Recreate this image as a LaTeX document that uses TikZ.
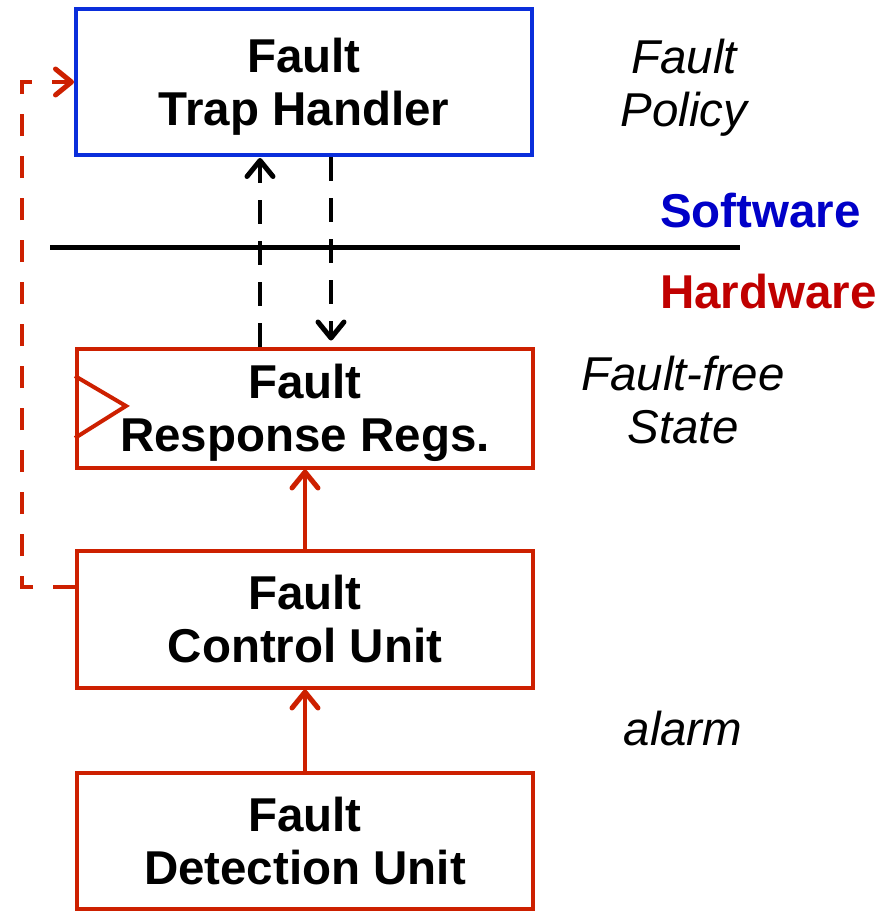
\documentclass[tikz,border=0pt]{standalone}
\usepackage{fontspec}
\setmainfont{Liberation Sans}
\usetikzlibrary{arrows.meta}
\definecolor{boxblue}{RGB}{10,46,219}
\definecolor{boxred}{RGB}{205,32,0}
\definecolor{swblue}{RGB}{0,0,200}
\definecolor{hwred}{RGB}{192,0,0}
\begin{document}
\begin{tikzpicture}[x=1pt,y=-1pt,
  box/.style={draw, line width=4pt, minimum width=456pt, minimum height=#1,
    align=center, inner sep=0pt, text depth=0pt,
    font=\fontsize{47.5}{53}\selectfont\bfseries},
  side/.style={inner sep=0pt, align=center, font=\fontsize{47.5}{53}\selectfont\itshape},
  layer/.style={inner sep=0pt, anchor=base west, font=\fontsize{47.5}{53}\selectfont\bfseries},
  chev/.tip={Straight Barb[length=16pt,width=26pt,line width=5pt,round]},
  blkdash/.style={line width=4pt, dash pattern=on 24pt off 17pt, -chev},
  reddash/.style={draw=boxred, line width=4pt, dash pattern=on 22pt off 20pt, -chev},
  redarrow/.style={draw=boxred, line width=4pt, -chev}
]
\useasboundingbox (0,0) rectangle (881,913);

\node[box=146pt, draw=boxblue] (trap) at (304,82) {Fault\\Trap Handler};
\node[box=119pt, draw=boxred] (resp) at (305,408) {Fault\\Response Regs.};
\node[box=137pt, draw=boxred] (ctrl) at (305,619) {Fault\\Control Unit};
\node[box=136pt, draw=boxred] (det) at (305,841) {Fault\\Detection Unit};

% flip-flop clock triangle
\draw[boxred, line width=4pt, line join=miter] (resp.west |- 0,376) -- (126,406) -- (resp.west |- 0,438);

% software / hardware divider
\coordinate (ls) at (50,247);
\coordinate (le) at (740,247);
\draw[line width=5pt] (ls) -- (le);

% dashed software arrows
\coordinate (upx) at (260,0);
\coordinate (dnx) at (331,0);
\draw[blkdash, shorten >=1pt] (resp.north -| upx) -- (trap.south -| upx);
\draw[blkdash, shorten >=6pt] (trap.south -| dnx) -- (resp.north -| dnx);

% red dashed feedback
\coordinate (fby) at (0,587);
\coordinate (lx) at (22,0);
\draw[reddash] (ctrl.west |- fby) -- (lx |- fby) -- (lx |- trap.west) -- (trap.west);

% red solid arrows
\draw[redarrow] (ctrl.north) -- (resp.south);
\draw[redarrow] (det.north) -- (ctrl.south);

% side labels
\node[side] (pol) at (684,88) {Fault\\Policy};
\node[layer, text=swblue] (sw) at (660,227) {Software};
\node[layer, text=hwred] (hw) at (660,308) {Hardware};
\node[side] (ffs) at (683,400) {Fault-free\\State};
\node[side, anchor=base] (alarm) at (683,745) {alarm};
\end{tikzpicture}
\end{document}
